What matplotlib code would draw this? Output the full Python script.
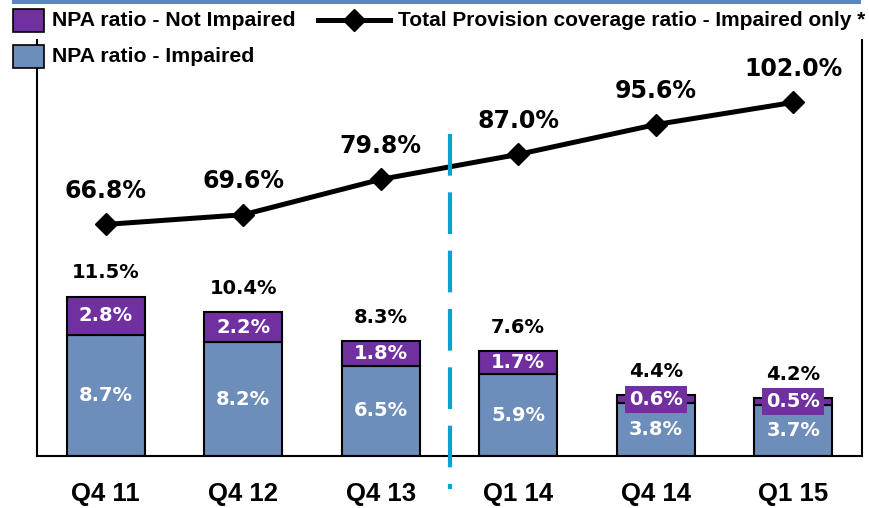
import matplotlib
matplotlib.use("Agg")
import matplotlib.pyplot as plt
from matplotlib.patches import Rectangle
from matplotlib.lines import Line2D

quarters = ["Q4 11", "Q4 12", "Q4 13", "Q1 14", "Q4 14", "Q1 15"]
npa_impaired = [8.7, 8.2, 6.5, 5.9, 3.8, 3.7]
npa_not_impaired = [2.8, 2.2, 1.8, 1.7, 0.6, 0.5]
npa_total = [11.5, 10.4, 8.3, 7.6, 4.4, 4.2]
coverage = [66.8, 69.6, 79.8, 87.0, 95.6, 102.0]

PURPLE = "#7030a0"
STEEL = "#6d8dbb"
DIVIDER = "#0aa2d4"
W, H = 869, 508

plt.rcParams["font.family"] = "DejaVu Sans"
plt.rcParams["font.weight"] = "bold"

fig = plt.figure(figsize=(W / 100, H / 100), dpi=100)
ax = fig.add_axes([37 / W, 52 / H, 825 / W, 416 / H])
ax2 = ax.twinx()

x = range(len(quarters))
ax.bar(x, npa_impaired, width=0.567, color=STEEL, edgecolor="black", linewidth=1.5, zorder=2)
ax.bar(x, npa_not_impaired, width=0.567, bottom=npa_impaired, color=PURPLE,
       edgecolor="black", linewidth=1.5, zorder=2)

for i in x:
    ax.text(i, npa_impaired[i] / 2, f"{npa_impaired[i]:.1f}%", ha="center", va="center",
            color="white", fontsize=14, zorder=3)
    # thin segments get a purple plate behind the label so it stays readable
    plate = None
    if npa_not_impaired[i] < 1:
        plate = dict(facecolor=PURPLE, edgecolor="none", boxstyle="square,pad=0.2")
    ax.text(i, npa_impaired[i] + npa_not_impaired[i] / 2, f"{npa_not_impaired[i]:.1f}%",
            ha="center", va="center", color="white", fontsize=14, zorder=3, bbox=plate)
    ax.annotate(f"{npa_total[i]:.1f}%", (i, npa_total[i]), xytext=(0, 17),
                textcoords="offset points", ha="center", va="center", fontsize=14)

ax2.plot(x, coverage, color="black", linewidth=3.6, marker="D", markersize=11, zorder=4)
for i in x:
    ax2.annotate(f"{coverage[i]:.1f}%", (i, coverage[i]), xytext=(0, 24),
                 textcoords="offset points", ha="center", va="center", fontsize=17)

# divider between year-end and quarterly figures
ax2.plot([2.5, 2.5], [93, -9.5], color=DIVIDER, linewidth=3, linestyle=(0, (10, 4)),
         clip_on=False, zorder=5)

ax.set_xlim(-0.5, 5.5)
ax.set_ylim(0, 30)
ax2.set_ylim(0, 120)
ax.set_yticks([])
ax2.set_yticks([])
ax.set_xticks(list(x))
ax.set_xticklabels(quarters, family="Liberation Sans", fontsize=18.5, fontweight="bold")
ax.tick_params(axis="x", length=0, pad=19)
ax.spines["top"].set_visible(False)
for s in ["left", "right", "bottom"]:
    ax.spines[s].set_linewidth(1.5)
for s in ax2.spines.values():
    s.set_visible(False)


def fx(px):
    return px / W


def fy(py):
    return 1 - py / H


# header strip
fig.add_artist(Rectangle((fx(12), fy(4)), fx(849), 4 / H, transform=fig.transFigure,
                         facecolor="#5a86c4", edgecolor="none"))

# legend
for top, color, label in [(9, PURPLE, "NPA ratio - Not Impaired"),
                          (45, STEEL, "NPA ratio - Impaired")]:
    fig.add_artist(Rectangle((fx(13), fy(top + 23)), 31 / W, 23 / H, transform=fig.transFigure,
                             facecolor=color, edgecolor="black", linewidth=1.2, zorder=6))
    fig.text(fx(52), fy(top + 11.5), label, family="Liberation Sans", fontsize=15.3,
             fontweight="bold", va="center", ha="left")
fig.add_artist(Line2D([fx(318), fx(390)], [fy(20), fy(20)], color="black", linewidth=3.6,
                      transform=fig.transFigure))
fig.add_artist(Line2D([fx(354)], [fy(20)], color="black", marker="D", markersize=11,
                      transform=fig.transFigure))
fig.text(fx(398), fy(20), "Total Provision coverage ratio - Impaired only *",
         family="Liberation Sans", fontsize=15, fontweight="bold", va="center", ha="left")

fig.savefig("out.png", dpi=100)
